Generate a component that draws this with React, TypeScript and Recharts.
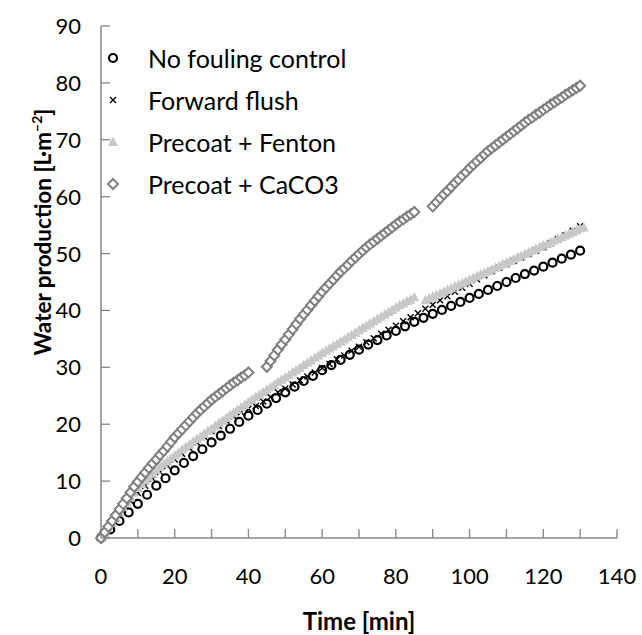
import { Label, Legend, Scatter, ScatterChart, XAxis, YAxis } from "recharts";

const NAMES = ["No fouling control", "Forward flush", "Precoat + Fenton", "Precoat + CaCO3"];

// every 2.5 min from t = 0
const noFouling = [
  0, 1.5, 3.0, 4.5, 6.0, 7.6, 9.2, 10.5, 11.9, 13.2, 14.4, 15.6, 16.8, 18.0, 19.2, 20.4, 21.5,
  22.5, 23.6, 24.6, 25.6, 26.6, 27.6, 28.5, 29.5, 30.4, 31.3, 32.2, 33.1, 34.0, 34.8, 35.6, 36.4,
  37.2, 38.0, 38.7, 39.4, 40.1, 40.8, 41.5, 42.2, 42.9, 43.6, 44.3, 45.0, 45.7, 46.4, 47.0, 47.7,
  48.4, 49.1, 49.8, 50.5,
];

// every 2 min from t = 0
const forwardFlush = [
  0, 1.7, 3.4, 5.0, 6.5, 7.9, 9.2, 10.4, 11.6, 12.7, 13.8, 14.8, 15.8, 16.8, 17.8, 18.8, 19.7,
  20.6, 21.4, 22.1, 22.7, 23.2, 24.0, 24.8, 25.6, 26.3, 27.0, 27.7, 28.4, 29.1, 29.9, 30.6, 31.4,
  32.1, 32.9, 33.6, 34.4, 35.1, 35.9, 36.6, 37.3, 38.1, 38.8, 39.5, 40.3, 41.0, 41.8, 42.5, 43.3,
  44.0, 44.7, 45.5, 46.2, 46.9, 47.5, 48.1, 48.7, 49.3, 49.9, 50.5, 51.1, 51.8, 52.5, 53.2, 54.0,
  54.8,
];

// every 1 min, t = 0..85
const fentonA = [
  0, 0.9, 1.8, 2.7, 3.6, 4.5, 5.4, 6.3, 7.1, 8.0, 8.8, 9.5, 10.1, 10.7, 11.3, 11.9, 12.5, 13.0,
  13.5, 14.0, 14.5, 15.0, 15.5, 16.0, 16.4, 16.9, 17.4, 17.8, 18.3, 18.8, 19.2, 19.7, 20.2, 20.6,
  21.1, 21.6, 22.0, 22.5, 23.0, 23.4, 23.9, 24.3, 24.8, 25.2, 25.6, 26.1, 26.5, 26.9, 27.4, 27.8,
  28.2, 28.6, 29.1, 29.5, 29.9, 30.4, 30.8, 31.2, 31.7, 32.1, 32.5, 32.9, 33.3, 33.7, 34.1, 34.5,
  34.9, 35.3, 35.7, 36.1, 36.5, 36.9, 37.3, 37.7, 38.1, 38.5, 38.9, 39.3, 39.7, 40.1, 40.5, 40.9,
  41.2, 41.6, 41.9, 42.3,
];
// every 1 min, t = 88..131
const fentonB = [
  41.8, 42.1, 42.4, 42.7, 43.0, 43.3, 43.6, 43.9, 44.2, 44.5, 44.8, 45.1, 45.4, 45.7, 46.0, 46.3,
  46.6, 46.9, 47.2, 47.5, 47.8, 48.1, 48.4, 48.7, 49.0, 49.3, 49.6, 49.9, 50.2, 50.5, 50.8, 51.1,
  51.4, 51.7, 52.0, 52.3, 52.6, 52.9, 53.2, 53.5, 53.8, 54.1, 54.4, 54.6,
];

// every 1 min, t = 0..40
const caco3A = [
  0, 1.0, 2.0, 3.0, 4.0, 5.0, 6.0, 7.0, 8.0, 9.0, 9.9, 10.7, 11.5, 12.3, 13.1, 13.8, 14.6, 15.3,
  16.1, 16.9, 17.7, 18.4, 19.1, 19.8, 20.5, 21.2, 21.9, 22.5, 23.1, 23.7, 24.3, 24.8, 25.3, 25.8,
  26.3, 26.8, 27.3, 27.7, 28.2, 28.6, 29.1,
];
// every 1 min, t = 45..85
const caco3B = [
  30.1, 31.1, 32.1, 33.1, 34.0, 34.9, 35.8, 36.7, 37.6, 38.5, 39.3, 40.1, 40.9, 41.7, 42.5, 43.3,
  44.0, 44.7, 45.4, 46.1, 46.8, 47.4, 48.0, 48.7, 49.3, 49.9, 50.5, 51.1, 51.6, 52.1, 52.6, 53.1,
  53.6, 54.1, 54.6, 55.1, 55.6, 56.0, 56.5, 56.9, 57.3,
];
// every 1 min, t = 90..130
const caco3C = [
  58.3, 59.0, 59.7, 60.4, 61.0, 61.7, 62.4, 63.0, 63.7, 64.3, 65.0, 65.6, 66.2, 66.8, 67.4, 68.0,
  68.5, 69.0, 69.5, 70.0, 70.5, 71.0, 71.5, 72.0, 72.5, 73.0, 73.5, 73.9, 74.4, 74.8, 75.3, 75.7,
  76.2, 76.6, 77.0, 77.4, 77.9, 78.3, 78.7, 79.1, 79.5,
];

const X_TICKS = [0, 10, 20, 30, 40, 50, 60, 70, 80, 90, 100, 110, 120, 130, 140];
const Y_TICKS = [0, 10, 20, 30, 40, 50, 60, 70, 80, 90];

const pts = (start: number, step: number, values: number[]) =>
  values.map((v, i) => ({ t: start + i * step, v }));

const AXIS = "#868686";
const FONT = "Lato, 'Open Sans', sans-serif";
// plot box edges, from the chart margins below
const PLOT_LEFT = 101;
const PLOT_BOTTOM = 538;

const CircleMark = ({ cx, cy }: any) => (
  <circle cx={cx} cy={cy} r={4} fill="none" stroke="#000" strokeWidth={2.2} />
);
const CrossMark = ({ cx, cy }: any) => (
  <path
    d={`M${cx - 3},${cy - 3}L${cx + 3},${cy + 3}M${cx - 3},${cy + 3}L${cx + 3},${cy - 3}`}
    stroke="#000"
    strokeWidth={1.4}
  />
);
const TriMark = ({ cx, cy }: any) => (
  <path d={`M${cx},${cy - 5.5}L${cx + 5},${cy + 4}L${cx - 5},${cy + 4}Z`} fill="#c8c8c8" />
);
const DiamondMark = ({ cx, cy }: any) => (
  <path
    d={`M${cx},${cy - 5}L${cx + 5},${cy}L${cx},${cy + 5}L${cx - 5},${cy}Z`}
    fill="#fff"
    stroke="#7f7f7f"
    strokeWidth={2}
  />
);
const MARKS = [CircleMark, CrossMark, TriMark, DiamondMark];

function YTick({ y, payload }: any) {
  return (
    <g>
      <line x1={PLOT_LEFT} x2={PLOT_LEFT + 9} y1={y} y2={y} stroke={AXIS} strokeWidth={1.3} />
      <text x={PLOT_LEFT - 20} y={y} dy={8} textAnchor="end" fontSize={22} fill="#000">
        {payload.value}
      </text>
    </g>
  );
}

function XTick({ x, payload }: any) {
  return (
    <g>
      <line x1={x} x2={x} y1={PLOT_BOTTOM - 9} y2={PLOT_BOTTOM} stroke={AXIS} strokeWidth={1.3} />
      {payload.value % 20 === 0 && (
        <text x={x} y={PLOT_BOTTOM + 46} textAnchor="middle" fontSize={22} fill="#000">
          {payload.value}
        </text>
      )}
    </g>
  );
}

function LegendBox() {
  return (
    <div style={{ fontFamily: FONT }}>
      {NAMES.map((name, i) => {
        const Mark = MARKS[i];
        return (
          <div key={name} style={{ height: 42, display: "flex", alignItems: "center" }}>
            <svg width={48} height={20}>
              <Mark cx={13} cy={10} />
            </svg>
            <span style={{ fontSize: 25, color: "#000" }}>{name}</span>
          </div>
        );
      })}
    </div>
  );
}

export default function App() {
  const series = [
    pts(0, 2.5, noFouling),
    pts(0, 2, forwardFlush),
    [...pts(0, 1, fentonA), ...pts(88, 1, fentonB)],
    [...pts(0, 1, caco3A), ...pts(45, 1, caco3B), ...pts(90, 1, caco3C)],
  ];

  return (
    <div
      style={{
        position: "absolute",
        left: 0,
        top: 0,
        width: 642,
        height: 635,
        background: "#fff",
        fontFamily: FONT,
      }}
    >
      <ScatterChart width={642} height={635} margin={{ top: 26, right: 25, left: 0, bottom: 0 }}>
        <XAxis
          dataKey="t"
          type="number"
          domain={[0, 140]}
          ticks={X_TICKS}
          interval={0}
          tickSize={0}
          tickMargin={0}
          tickLine={false}
          tick={<XTick />}
          height={97}
          axisLine={{ stroke: AXIS, strokeWidth: 1.5 }}
        >
          <Label
            content={() => (
              <text x={359} y={630} textAnchor="middle" fontSize={24} fontWeight="bold" fill="#000">
                Time [min]
              </text>
            )}
          />
        </XAxis>
        <YAxis
          dataKey="v"
          type="number"
          domain={[0, 90]}
          ticks={Y_TICKS}
          interval={0}
          tickSize={0}
          tickMargin={20}
          tickLine={false}
          tick={<YTick />}
          width={101}
          axisLine={{ stroke: AXIS, strokeWidth: 1.5 }}
        >
          <Label
            content={() => (
              <text
                x={0}
                y={0}
                transform="translate(51,232) rotate(-90)"
                textAnchor="middle"
                fontSize={22.5}
                fontWeight="bold"
                fill="#000"
              >
                Water production [L·m
                <tspan dy={-9} fontSize={14}>
                  −2
                </tspan>
                <tspan dy={9}>]</tspan>
              </text>
            )}
          />
        </YAxis>
        <XAxis
          xAxisId="top"
          orientation="top"
          type="number"
          domain={[0, 140]}
          height={0}
          tick={false}
          tickLine={false}
          axisLine={{ stroke: "#c8c8c8" }}
        />
        <YAxis
          yAxisId="right"
          orientation="right"
          type="number"
          domain={[0, 90]}
          width={0}
          tick={false}
          tickLine={false}
          axisLine={{ stroke: "#c8c8c8" }}
        />
        <Legend
          layout="vertical"
          align="center"
          verticalAlign="middle"
          content={<LegendBox />}
          wrapperStyle={{ left: 100, top: 37, width: 340 }}
        />
        {series.map((data, i) => (
          <Scatter
            key={NAMES[i]}
            name={NAMES[i]}
            data={data}
            shape={MARKS[i]}
            isAnimationActive={false}
          />
        ))}
      </ScatterChart>
    </div>
  );
}
